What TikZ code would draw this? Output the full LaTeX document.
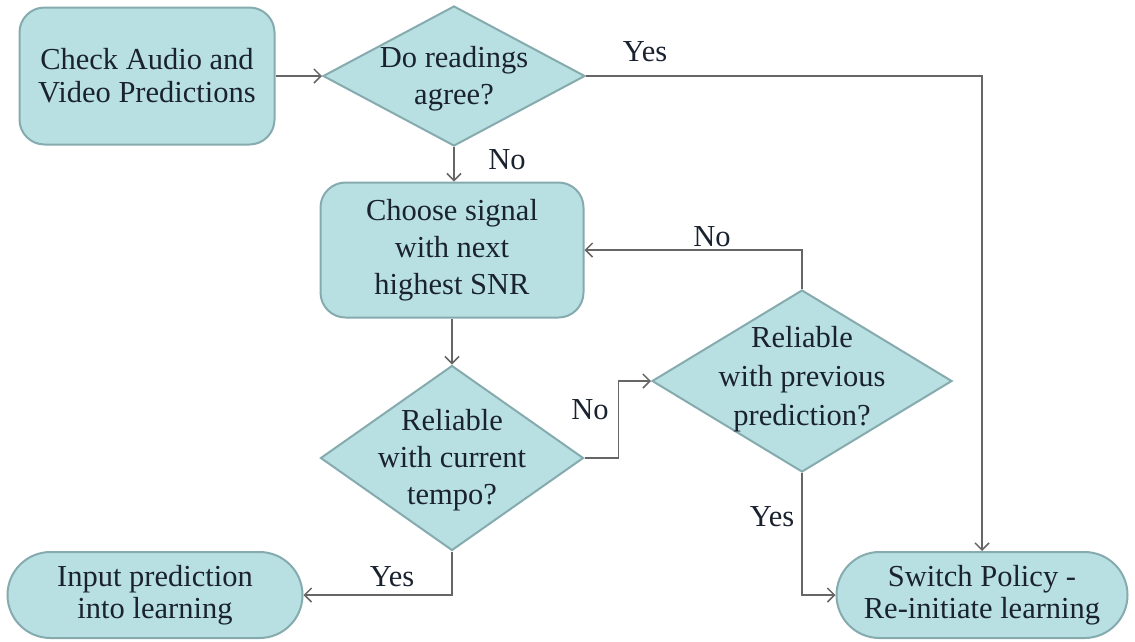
\documentclass[tikz,border=0pt]{standalone}
\usepackage{fontspec}
\setmainfont{Liberation Serif}
\usetikzlibrary{shapes.geometric,arrows.meta}
\definecolor{boxfill}{HTML}{B8DFE2}
\definecolor{boxline}{HTML}{86ABAE}
\definecolor{arrowc}{HTML}{666666}
\definecolor{txtc}{HTML}{1A2230}
\begin{document}
\begin{tikzpicture}[x=1pt,y=-1pt,
  box/.style={draw=boxline, fill=boxfill, line width=2pt, rounded corners=25pt, inner sep=0pt, text=txtc, align=center},
  dia/.style={draw=boxline, fill=boxfill, line width=2pt, diamond, inner sep=0pt},
  txt/.style={text=txtc, align=center, inner sep=0pt},
  fa/.style={font=\fontsize{30.5}{33}\selectfont},
  fb/.style={font=\fontsize{30.5}{37}\selectfont},
  fc/.style={font=\fontsize{30.5}{32}\selectfont},
  lab/.style={text=txtc, font=\fontsize{30.5}{35}\selectfont, inner sep=0pt},
  arr/.style={draw=arrowc, line width=1.5pt, -{Straight Barb[length=7pt,width=14pt]}}]
\useasboundingbox (0,0) rectangle (1135,641);
\node[box, fa, minimum width=255pt, minimum height=137pt] (check) at (147,76) {Check Audio and\\Video Predictions};
\node[dia, minimum width=262pt, minimum height=140pt] (d1) at (454,76) {};
\node[txt, fb] (d1t) at (454,79) {Do readings\\agree?};
\node[box, fb, minimum width=263pt, minimum height=135pt] (choose) at (452,250) {Choose signal\\with next\\highest SNR};
\node[dia, minimum width=263pt, minimum height=185pt] (d2) at (452,458) {};
\node[txt, fb] (d2t) at (452,460) {Reliable\\with current\\tempo?};
\node[dia, minimum width=300pt, minimum height=182pt] (d3) at (802,381) {};
\node[txt, font=\fontsize{30.5}{39}\selectfont] (d3t) at (802,379) {Reliable\\with previous\\prediction?};
\node[box, fc, rounded corners=43pt, minimum width=291pt, minimum height=86pt] (switch) at (982,595) {Switch Policy -\\Re-initiate learning};
\node[box, fc, rounded corners=43pt, minimum width=295pt, minimum height=86pt] (input) at (155,595) {Input prediction\\into learning};
\draw[arr] (check.east) -- (d1.west);
\draw[arr] (d1.east) -| (switch.north);
\draw[arr] (d1.south) -- (d1.south |- choose.north);
\draw[arr] (choose.south) -- (d2.north);
\coordinate (c1) at ([xshift=34pt]d2.east);
\draw[arr] (d2.east) -- (c1) |- (d3.west);
\draw[arr] (d3.north) |- (choose.east);
\draw[arr] (d3.south) |- (switch.west);
\draw[arr] (d2.south) |- (input.east);
\node[lab] (l1) at (645,52) {Yes};
\node[lab] (l2) at (507,160) {No};
\node[lab] (l3) at (712,237) {No};
\node[lab] (l4) at (590,410) {No};
\node[lab] (l5) at (772,517) {Yes};
\node[lab] (l6) at (392,577) {Yes};
\end{tikzpicture}
\end{document}
